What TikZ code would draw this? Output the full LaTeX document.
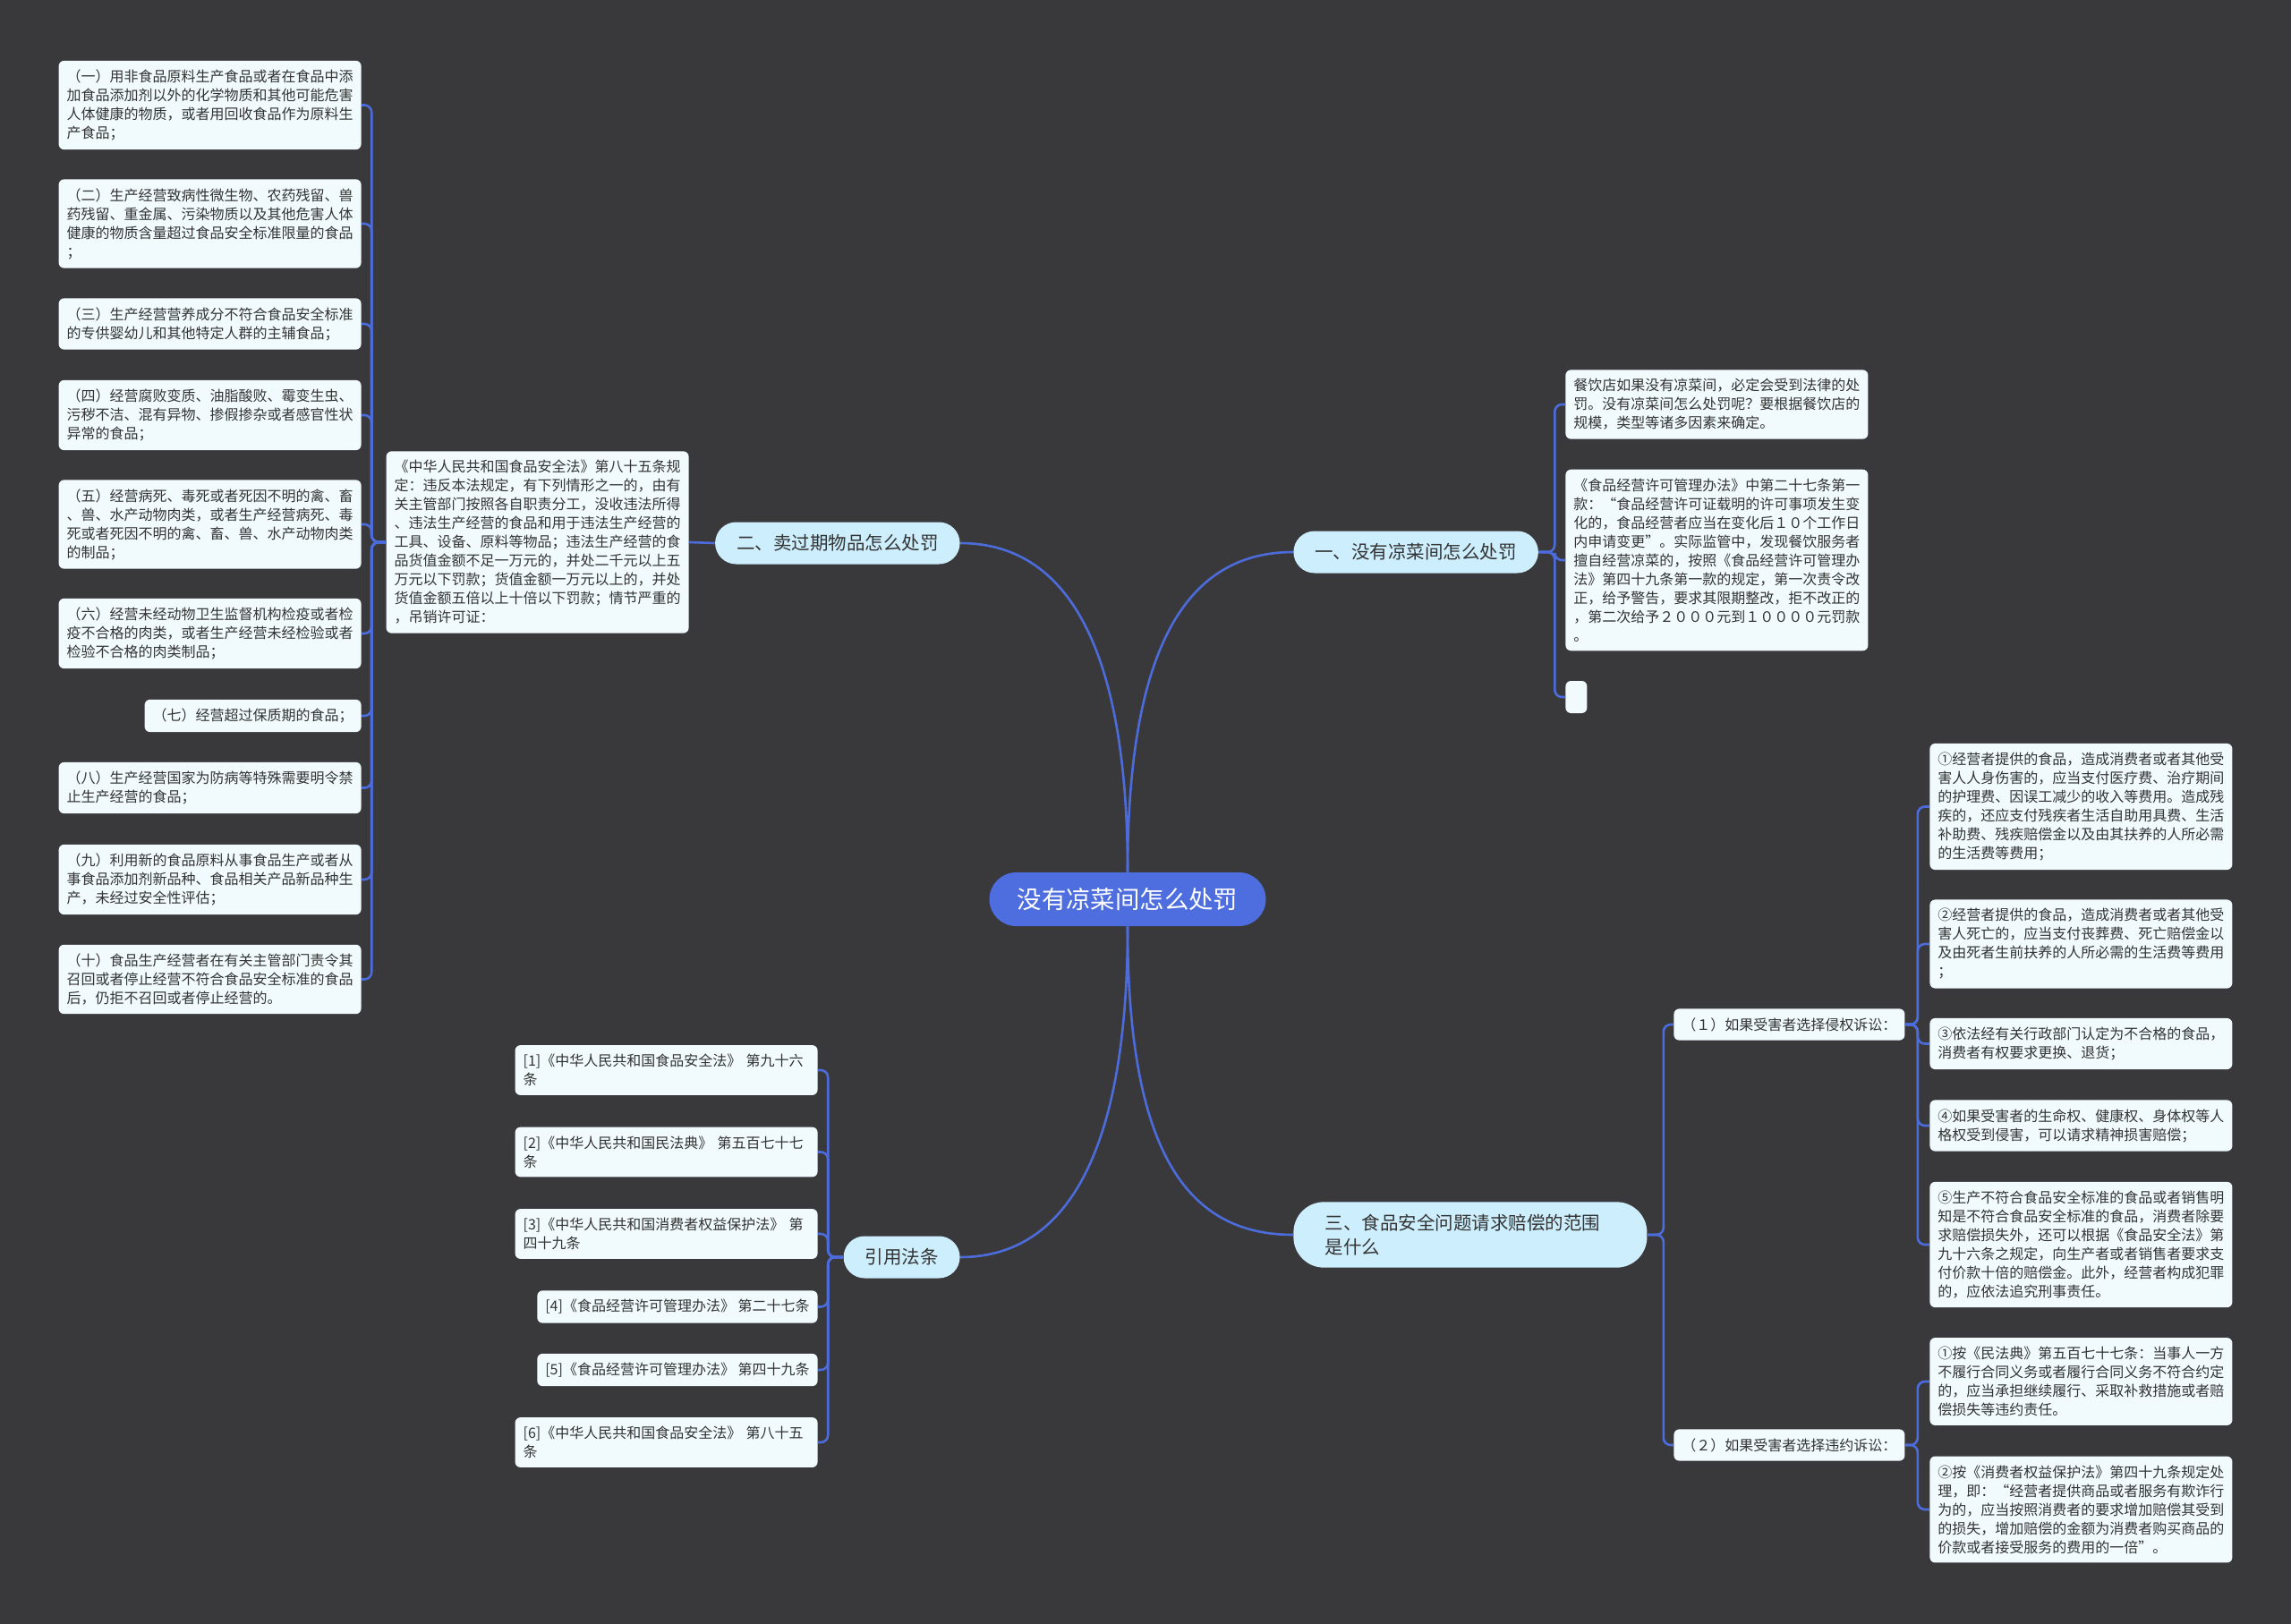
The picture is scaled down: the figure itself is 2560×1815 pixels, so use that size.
\documentclass[tikz,border=0pt]{standalone}
\usepackage{fontspec}
\setmainfont{Noto Sans CJK SC}
\definecolor{bgcol}{HTML}{39383A}
\definecolor{linkcol}{HTML}{4D6CDB}
\definecolor{rootfill}{HTML}{4E6EE0}
\definecolor{branchfill}{HTML}{CDEEFC}
\definecolor{leaffill}{HTML}{F1FBFE}
\definecolor{leaftext}{HTML}{333333}
\newcommand{\leaffont}{\fontsize{8pt}{10.5pt}\selectfont}
\newcommand{\branchfont}{\fontsize{10.25pt}{13.5pt}\selectfont}
\newcommand{\rootfont}{\fontsize{13.7pt}{16pt}\selectfont}
\tikzset{
  box/.style={fill=leaffill, text=leaftext, rounded corners=3pt, align=left,
    font=\leaffont, inner xsep=4.5pt, inner ysep=5pt},
  leaf/.style={box, text width=160pt},
  branch/.style={fill=branchfill, text=leaftext, rounded corners=11.75pt,
    font=\branchfont, inner xsep=12pt, minimum height=23.5pt},
  branchwide/.style={branch, align=left, text width=162pt, inner xsep=17.75pt,
    inner ysep=6.8pt, rounded corners=17pt},
  root/.style={fill=rootfill, text=white, rounded corners=15pt, font=\rootfont,
    minimum width=154.5pt, minimum height=30pt},
  link/.style={draw=linkcol, line width=1.3pt, rounded corners=4pt},
}
\begin{document}
\begin{tikzpicture}[x=0.5pt,y=-0.5pt]
\fill[bgcol] (0,0) rectangle (2560,1815);
\useasboundingbox (0,0) rectangle (2560,1815);

\node[root] (root) at (1260,1005) {没有凉菜间怎么处罚};
\node[branch, anchor=west] (b1) at (1445,617) {一、没有凉菜间怎么处罚};
\node[branch, anchor=east] (b2) at (1073,607) {二、卖过期物品怎么处罚};
\node[branchwide, anchor=west] (b3) at (1445,1380) {三、食品安全问题请求赔偿的范围\\是什么};
\node[branch, anchor=east] (b4) at (1073,1405) {引用法条};

\draw[link] (root.north) .. controls +(0,-250) and +(-120,0) .. (b1.west);
\draw[link] (root.north) .. controls +(0,-250) and +(120,0) .. (b2.east);
\draw[link] (root.south) .. controls +(0,250) and +(-120,0) .. (b3.west);
\draw[link] (root.south) .. controls +(0,250) and +(120,0) .. (b4.east);

% 一
\node[leaf, anchor=west] (a1) at (1749,452) {餐饮店如果没有凉菜间，必定会受到法律的处\\罚。没有凉菜间怎么处罚呢？要根据餐饮店的\\规模，类型等诸多因素来确定。};
\node[leaf, anchor=west] (a2) at (1749,626) {《食品经营许可管理办法》中第二十七条第一\\款：“食品经营许可证载明的许可事项发生变\\化的，食品经营者应当在变化后１０个工作日\\内申请变更”。实际监管中，发现餐饮服务者\\擅自经营凉菜的，按照《食品经营许可管理办\\法》第四十九条第一款的规定，第一次责令改\\正，给予警告，要求其限期整改，拒不改正的\\，第二次给予２０００元到１００００元罚款\\。};
\node[box, anchor=west, inner sep=0pt, minimum width=12pt, minimum height=18pt] (a3) at (1749,779) {};
\foreach \n in {a1,a2,a3}
  \draw[link] (b1.east) -- ++(18,0) |- (\n.west);

% 二
\node[leaf, anchor=east] (b0) at (770,606) {《中华人民共和国食品安全法》第八十五条规\\定：违反本法规定，有下列情形之一的，由有\\关主管部门按照各自职责分工，没收违法所得\\、违法生产经营的食品和用于违法生产经营的\\工具、设备、原料等物品；违法生产经营的食\\品货值金额不足一万元的，并处二千元以上五\\万元以下罚款；货值金额一万元以上的，并处\\货值金额五倍以上十倍以下罚款；情节严重的\\，吊销许可证：};
\draw[link] (b2.west) -- (b0.east);

\node[leaf, anchor=east] (l1) at (404,117.5) {（一）用非食品原料生产食品或者在食品中添\\加食品添加剂以外的化学物质和其他可能危害\\人体健康的物质，或者用回收食品作为原料生\\产食品；};
\node[leaf, anchor=east] (l2) at (404,250) {（二）生产经营致病性微生物、农药残留、兽\\药残留、重金属、污染物质以及其他危害人体\\健康的物质含量超过食品安全标准限量的食品\\；};
\node[leaf, anchor=east] (l3) at (404,362) {（三）生产经营营养成分不符合食品安全标准\\的专供婴幼儿和其他特定人群的主辅食品；};
\node[leaf, anchor=east] (l4) at (404,464) {（四）经营腐败变质、油脂酸败、霉变生虫、\\污秽不洁、混有异物、掺假掺杂或者感官性状\\异常的食品；};
\node[leaf, anchor=east] (l5) at (404,586) {（五）经营病死、毒死或者死因不明的禽、畜\\、兽、水产动物肉类，或者生产经营病死、毒\\死或者死因不明的禽、畜、兽、水产动物肉类\\的制品；};
\node[leaf, anchor=east] (l6) at (404,708) {（六）经营未经动物卫生监督机构检疫或者检\\疫不合格的肉类，或者生产经营未经检验或者\\检验不合格的肉类制品；};
\node[box, anchor=east] (l7) at (404,800) {（七）经营超过保质期的食品；};
\node[leaf, anchor=east] (l8) at (404,880.5) {（八）生产经营国家为防病等特殊需要明令禁\\止生产经营的食品；};
\node[leaf, anchor=east] (l9) at (404,983) {（九）利用新的食品原料从事食品生产或者从\\事食品添加剂新品种、食品相关产品新品种生\\产，未经过安全性评估；};
\node[leaf, anchor=east] (l10) at (404,1094.5) {（十）食品生产经营者在有关主管部门责令其\\召回或者停止经营不符合食品安全标准的食品\\后，仍拒不召回或者停止经营的。};
\foreach \n in {l1,l2,l3,l4,l5,l6,l7,l8,l9,l10}
  \draw[link] (b0.west) -- ++(-16,0) |- (\n.east);

% 三
\node[box, anchor=west] (c1) at (1870,1145) {（１）如果受害者选择侵权诉讼：};
\node[box, anchor=west] (c2) at (1870,1615) {（２）如果受害者选择违约诉讼：};
\draw[link] (b3.east) -- ++(18,0) |- (c1.west);
\draw[link] (b3.east) -- ++(18,0) |- (c2.west);

\node[leaf, anchor=west] (d1) at (2156,901.5) {①经营者提供的食品，造成消费者或者其他受\\害人人身伤害的，应当支付医疗费、治疗期间\\的护理费、因误工减少的收入等费用。造成残\\疾的，还应支付残疾者生活自助用具费、生活\\补助费、残疾赔偿金以及由其扶养的人所必需\\的生活费等费用；};
\node[leaf, anchor=west] (d2) at (2156,1055) {②经营者提供的食品，造成消费者或者其他受\\害人死亡的，应当支付丧葬费、死亡赔偿金以\\及由死者生前扶养的人所必需的生活费等费用\\；};
\node[leaf, anchor=west] (d3) at (2156,1166.5) {③依法经有关行政部门认定为不合格的食品，\\消费者有权要求更换、退货；};
\node[leaf, anchor=west] (d4) at (2156,1258) {④如果受害者的生命权、健康权、身体权等人\\格权受到侵害，可以请求精神损害赔偿；};
\node[leaf, anchor=west] (d5) at (2156,1391) {⑤生产不符合食品安全标准的食品或者销售明\\知是不符合食品安全标准的食品，消费者除要\\求赔偿损失外，还可以根据《食品安全法》第\\九十六条之规定，向生产者或者销售者要求支\\付价款十倍的赔偿金。此外，经营者构成犯罪\\的，应依法追究刑事责任。};
\foreach \n in {d1,d2,d3,d4,d5}
  \draw[link] (c1.east) -- ++(14,0) |- (\n.west);

\node[leaf, anchor=west] (e1) at (2156,1544) {①按《民法典》第五百七十七条：当事人一方\\不履行合同义务或者履行合同义务不符合约定\\的，应当承担继续履行、采取补救措施或者赔\\偿损失等违约责任。};
\node[leaf, anchor=west] (e2) at (2156,1687) {②按《消费者权益保护法》第四十九条规定处\\理，即：“经营者提供商品或者服务有欺诈行\\为的，应当按照消费者的要求增加赔偿其受到\\的损失，增加赔偿的金额为消费者购买商品的\\价款或者接受服务的费用的一倍”。};
\foreach \n in {e1,e2}
  \draw[link] (c2.east) -- ++(14,0) |- (\n.west);

% 引用法条
\node[leaf, anchor=east] (f1) at (914,1196) {[1]《中华人民共和国食品安全法》 第九十六\\条};
\node[leaf, anchor=east] (f2) at (914,1287.5) {[2]《中华人民共和国民法典》 第五百七十七\\条};
\node[leaf, anchor=east] (f3) at (914,1379) {[3]《中华人民共和国消费者权益保护法》 第\\四十九条};
\node[box, anchor=east] (f4) at (914,1460.5) {[4]《食品经营许可管理办法》 第二十七条};
\node[box, anchor=east] (f5) at (914,1531) {[5]《食品经营许可管理办法》 第四十九条};
\node[leaf, anchor=east] (f6) at (914,1612) {[6]《中华人民共和国食品安全法》 第八十五\\条};
\foreach \n in {f1,f2,f3,f4,f5,f6}
  \draw[link] (b4.west) -- ++(-17,0) |- (\n.east);
\end{tikzpicture}
\end{document}
